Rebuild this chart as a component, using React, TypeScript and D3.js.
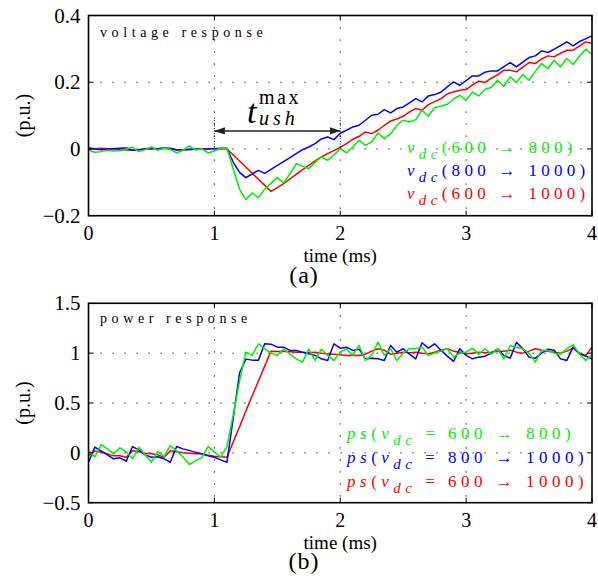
import React from "react";
import * as d3 from "d3";

// sampling interval of the simulated traces (ms)
const timeStep = 0.05;

const xTicks = [0, 1, 2, 3, 4];
const vTicks = [-0.2, 0, 0.2, 0.4];
const pTicks = [-0.5, 0, 0.5, 1, 1.5];

// (a) voltage response, p.u.
const vGreen = [
  -0.004, -0.01, -0.008, -0.004, -0.006, -0.005, 0.0, 0.005, -0.008, -0.002,
  0.006, -0.004, 0.002, -0.001, -0.012, -0.004, 0.009, -0.003, 0.0, -0.012,
  -0.006, 0.002, 0.002, -0.06, -0.12, -0.152, -0.132, -0.146, -0.12, -0.103,
  -0.086, -0.102, -0.075, -0.044, -0.052, -0.059, -0.04, -0.024, -0.034, -0.018,
  0.001, -0.012, 0.006, 0.026, 0.011, 0.021, 0.048, 0.031, 0.045, 0.071,
  0.086, 0.081, 0.088, 0.116, 0.098, 0.124, 0.128, 0.134, 0.149, 0.161,
  0.146, 0.171, 0.159, 0.178, 0.184, 0.206, 0.188, 0.216, 0.199, 0.223,
  0.206, 0.232, 0.256, 0.241, 0.266, 0.246, 0.271, 0.253, 0.278, 0.299, 0.283,
];
const vBlue = [
  0.004, 0.0, -0.002, 0.0, 0.001, 0.002, 0.003, -0.004, -0.002, 0.001,
  0.002, 0.001, 0.003, 0.002, -0.003, -0.002, -0.001, 0.0, -0.001, 0.001,
  0.001, 0.002, 0.002, -0.04, -0.07, -0.086, -0.075, -0.064, -0.073, -0.061,
  -0.049, -0.038, -0.026, -0.014, -0.002, 0.006, 0.016, 0.03, 0.036, 0.028,
  0.047, 0.056, 0.066, 0.071, 0.086, 0.101, 0.104, 0.118, 0.108, 0.121,
  0.126, 0.138, 0.151, 0.141, 0.159, 0.163, 0.17, 0.186, 0.201, 0.191,
  0.205, 0.219, 0.219, 0.23, 0.234, 0.234, 0.247, 0.259, 0.246, 0.26,
  0.274, 0.279, 0.294, 0.289, 0.299, 0.31, 0.321, 0.309, 0.322, 0.33, 0.339,
];
const vRed = [
  0.0, 0.001, 0.002, 0.001, 0.0, -0.002, -0.003, -0.004, -0.002, -0.001,
  0.0, 0.001, 0.002, 0.0, -0.002, -0.003, -0.002, -0.001, 0.0, 0.001,
  0.001, 0.001, 0.0, -0.018, -0.036, -0.054, -0.073, -0.091, -0.109, -0.127,
  -0.116, -0.104, -0.09, -0.076, -0.062, -0.049, -0.036, -0.024, -0.014, -0.005,
  0.005, 0.016, 0.029, 0.038, 0.051, 0.046, 0.056, 0.071, 0.084, 0.09,
  0.098, 0.111, 0.121, 0.116, 0.133, 0.142, 0.151, 0.165, 0.171, 0.176,
  0.178, 0.192, 0.203, 0.199, 0.212, 0.222, 0.236, 0.236, 0.231, 0.245,
  0.259, 0.256, 0.27, 0.279, 0.276, 0.287, 0.296, 0.296, 0.308, 0.321, 0.316,
];

// (b) power response, p.u.
const pGreen = [
  0.02, -0.04, 0.084, 0.04, -0.01, 0.05, 0.01, -0.06, 0.056, -0.02,
  -0.094, 0.013, -0.037, 0.073, 0.02, -0.04, -0.117, -0.08, -0.05, 0.063,
  0.01, -0.044, 0.063, 0.38, 0.72, 1.01, 0.977, 1.094, 1.044, 1.0,
  0.977, 1.044, 0.99, 0.943, 0.91, 1.04, 0.927, 1.04, 0.977, 0.927,
  1.01, 1.044, 0.977, 1.077, 0.927, 0.977, 1.11, 0.977, 1.044, 0.927,
  1.0, 1.044, 1.044, 1.06, 0.977, 1.0, 1.02, 1.044, 0.96, 1.0,
  1.01, 1.05, 0.99, 1.044, 0.99, 1.044, 0.943, 1.077, 1.06, 1.044,
  1.0, 0.91, 1.027, 1.027, 1.0, 0.99, 1.044, 1.084, 0.99, 0.927, 0.98,
];
const pBlue = [
  -0.094, 0.056, 0.02, -0.02, -0.06, -0.05, -0.084, 0.063, 0.03, -0.02,
  -0.044, -0.04, -0.06, -0.094, 0.063, 0.04, 0.025, 0.005, -0.01, -0.03,
  -0.044, -0.07, -0.094, 0.35, 0.8, 0.94, 0.93, 0.93, 1.095, 1.09,
  1.06, 1.06, 1.027, 1.027, 1.01, 0.995, 0.977, 0.943, 0.927, 1.094,
  1.05, 1.06, 1.027, 1.04, 0.943, 0.95, 0.943, 0.927, 1.077, 1.01,
  1.044, 0.99, 0.943, 1.104, 1.05, 1.094, 1.03, 0.97, 0.917, 1.044,
  0.977, 0.943, 0.96, 0.97, 1.0, 1.044, 0.977, 0.95, 1.11, 1.044,
  0.96, 0.95, 1.0, 1.04, 1.03, 0.943, 0.927, 1.06, 0.994, 0.97, 0.943,
];
const pRed = [
  -0.028, 0.02, 0.005, -0.01, -0.03, -0.03, -0.044, 0.02, 0.01, -0.005,
  -0.01, -0.02, -0.044, 0.02, 0.01, 0.0, -0.005, -0.01, -0.01, -0.025,
  -0.035, -0.04, -0.044, 0.11, 0.26, 0.42, 0.57, 0.72, 0.87, 1.02,
  1.017, 1.02, 1.015, 1.01, 1.01, 1.005, 1.01, 1.0, 0.994, 0.99,
  0.985, 0.977, 0.98, 0.977, 0.99, 1.02, 1.044, 1.03, 0.99, 1.0,
  1.01, 1.005, 1.01, 1.0, 0.994, 1.01, 1.03, 1.044, 1.02, 1.01,
  0.994, 1.0, 1.01, 1.005, 1.01, 1.02, 1.02, 1.03, 1.01, 1.0,
  1.02, 1.044, 1.03, 1.02, 1.01, 1.0, 1.02, 1.05, 1.0, 0.977, 1.06,
];

const legendRanges = ["600 → 800", "800 → 1000", "600 → 1000"];

const GREEN = "#00f000";
const BLUE = "#0000ff";
const RED = "#ff0000";
const serif = { fontFamily: '"Liberation Serif", "DejaVu Serif", serif' };

const x = d3.scaleLinear().domain([0, 4]).range([88.5, 592]);
const yV = d3.scaleLinear().domain([-0.2, 0.4]).range([215.7, 15.5]);
const yP = d3.scaleLinear().domain([-0.5, 1.5]).range([502.7, 303.3]);

const fmt = (v: number) => (v < 0 ? "\u2212" + Math.abs(v) : String(v));

function Panel({ y, yTicks, traces, title, titleY, legend, caption, captionY }: any) {
  const [x0, x1] = x.range();
  const [yb, yt] = y.range();
  const line = d3
    .line<number>()
    .x((_, i) => x(i * timeStep))
    .y((d) => y(d));
  const mid = (x0 + x1) / 2;
  return (
    <g style={serif}>
      {/* dotted grid */}
      {xTicks.slice(1, -1).map((t) => (
        <line key={"gx" + t} x1={x(t)} x2={x(t)} y1={yt} y2={yb} stroke="#000" strokeWidth={1} strokeDasharray="1.2 10.8" />
      ))}
      {yTicks.slice(1, -1).map((t: number) => (
        <line key={"gy" + t} x1={x0} x2={x1} y1={y(t)} y2={y(t)} stroke="#000" strokeWidth={1} strokeDasharray="1.2 10.8" />
      ))}
      {traces.map((tr: any, k: number) => (
        <path key={k} d={line(tr.values) as string} fill="none" stroke={tr.color} strokeWidth={1.5} strokeLinejoin="round" />
      ))}
      {/* frame and inward ticks */}
      <rect x={x0} y={yt} width={x1 - x0} height={yb - yt} fill="none" stroke="#000" strokeWidth={1.6} />
      {xTicks.map((t) => (
        <g key={"tx" + t}>
          <line x1={x(t)} x2={x(t)} y1={yb} y2={yb - 5} stroke="#000" />
          <line x1={x(t)} x2={x(t)} y1={yt} y2={yt + 5} stroke="#000" />
          <text x={x(t)} y={yb + 24.5} fontSize={20} textAnchor="middle">{t}</text>
        </g>
      ))}
      {yTicks.map((t: number) => (
        <g key={"ty" + t}>
          <line x1={x0} x2={x0 + 5} y1={y(t)} y2={y(t)} stroke="#000" />
          <line x1={x1} x2={x1 - 5} y1={y(t)} y2={y(t)} stroke="#000" />
          <text x={x0 - 8} y={y(t) + 7} fontSize={21} textAnchor="end">{fmt(t)}</text>
        </g>
      ))}
      <text x={mid} y={yb + 46} fontSize={19} textAnchor="middle">time (ms)</text>
      <text transform={`translate(30,${(yb + yt) / 2}) rotate(-90)`} fontSize={20} textAnchor="middle">(p.u.)</text>
      <text x={100} y={titleY} fontSize={14} letterSpacing={4.6}>{title}</text>
      {legend}
      <text x={304} y={captionY} fontSize={24} letterSpacing={1} textAnchor="middle">{caption}</text>
    </g>
  );
}

export default function App() {
  const colors = [GREEN, BLUE, RED];
  const vLegend = legendRanges.map((r, i) => (
    <text key={i} x={407} y={153 + i * 23} fontSize={17} letterSpacing={4.3} fill={colors[i]} style={serif}>
      <tspan fontStyle="italic">v</tspan>
      <tspan fontStyle="italic" fontSize={15} dy={6}>dc</tspan>
      <tspan dy={-6}>({r})</tspan>
    </text>
  ));
  const pLegend = legendRanges.map((r, i) => (
    <text key={i} x={347} y={439 + i * 24} fontSize={17} letterSpacing={4.5} fill={colors[i]} style={serif}>
      <tspan fontStyle="italic">ps</tspan>
      <tspan>(</tspan>
      <tspan fontStyle="italic">v</tspan>
      <tspan fontStyle="italic" fontSize={15} dy={6}>dc</tspan>
      <tspan dy={-6}> = {r})</tspan>
    </text>
  ));

  return (
    <svg width={598} height={580} style={{ position: "absolute", left: 0, top: 0, background: "#fff" }}>
      <defs>
        <marker id="ah" viewBox="0 0 10 10" refX={10} refY={5} markerWidth={7} markerHeight={7} orient="auto-start-reverse">
          <path d="M0,1.5 L10,5 L0,8.5 z" fill="#222" />
        </marker>
      </defs>
      <Panel
        y={yV}
        yTicks={vTicks}
        traces={[
          { values: vRed, color: RED },
          { values: vBlue, color: BLUE },
          { values: vGreen, color: GREEN },
        ]}
        title="voltage response"
        titleY={36.5}
        legend={vLegend}
        caption="(a)"
        captionY={283}
      />
      {/* settling time annotation */}
      <g style={serif}>
        {[1, 2].map((t) => (
          <line key={t} x1={x(t)} x2={x(t)} y1={yV(0.094)} y2={yV(0.0)} stroke="#000" strokeWidth={1} strokeDasharray="1 1.6" />
        ))}
        <line x1={x(1)} x2={x(2)} y1={yV(0.054)} y2={yV(0.054)} stroke="#222" strokeWidth={1.5} markerStart="url(#ah)" markerEnd="url(#ah)" />
        <text x={247} y={123} fontSize={34} fontStyle="italic">t</text>
        <text x={259} y={104} fontSize={20} letterSpacing={2.5}>max</text>
        <text x={259} y={125} fontSize={20} fontStyle="italic" letterSpacing={4}>ush</text>
      </g>
      <Panel
        y={yP}
        yTicks={pTicks}
        traces={[
          { values: pRed, color: RED },
          { values: pBlue, color: BLUE },
          { values: pGreen, color: GREEN },
        ]}
        title="power response"
        titleY={323}
        legend={pLegend}
        caption="(b)"
        captionY={569}
      />
    </svg>
  );
}
